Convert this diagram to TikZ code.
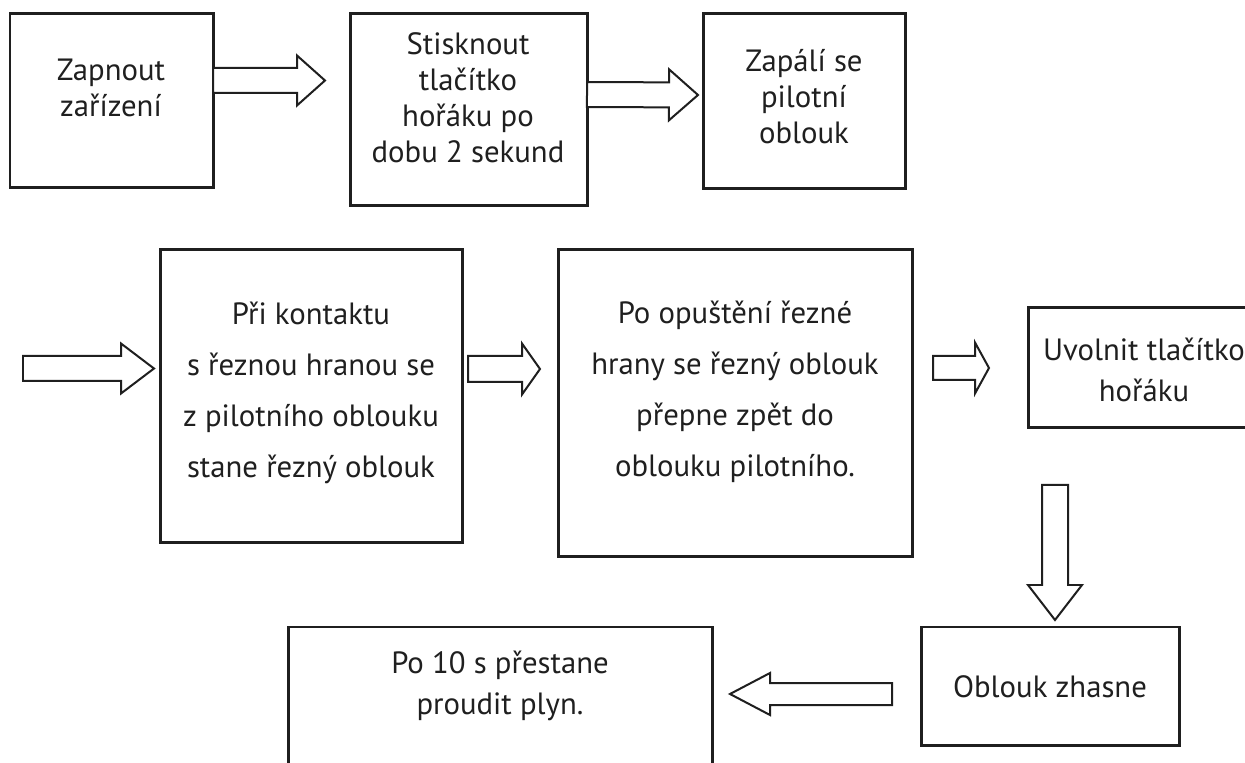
\documentclass[tikz,border=0pt]{standalone}
\usepackage{fontspec}
\setmainfont{PT Sans}
\usetikzlibrary{calc}

\newcommand{\px}{0.02cm}
% hollow block arrow: start, tip, shaft half width, head half width, head length, name
\newcommand{\hollowarrow}[6]{%
  \coordinate (#6s) at (#1);
  \coordinate (#6t) at (#2);
  \coordinate (#6h) at ($(#6t)!#5*\px!(#6s)$);
  \draw[blockarrow] ($(#6s)!#3*\px!90:(#6t)$) -- ($(#6h)!#3*\px!90:(#6t)$)
    -- ($(#6h)!#4*\px!90:(#6t)$) -- (#6t) -- ($(#6h)!#4*\px!-90:(#6t)$)
    -- ($(#6h)!#3*\px!-90:(#6t)$) -- ($(#6s)!#3*\px!-90:(#6t)$) -- cycle;
}

\tikzset{
  box/.style 2 args={draw=black!88, line width=0.06cm, inner sep=0pt, outer sep=0pt,
    minimum width=#1*\px, minimum height=#2*\px},
  txt/.style={align=center, text=black!88, inner sep=0pt,
    font=\fontsize{17.5}{20.5}\selectfont},
  widetxt/.style={txt, font=\fontsize{17.5}{29}\selectfont},
  midtxt/.style={txt, font=\fontsize{17.5}{23}\selectfont},
  blockarrow/.style={draw=black!88, fill=white, line width=0.04cm, line join=miter}
}

\begin{document}
\begin{tikzpicture}[x=0.02cm, y=-0.02cm]
	\useasboundingbox (0,0) rectangle (1245,763);
	\clip (0,0) rectangle (1245,763);

	% first row
	\node[box={203}{174}] (b1) at (111.5,101) {};
	\node[box={237}{192}] (b2) at (468.5,110) {};
	\node[box={202}{175}] (b3) at (804,101.5) {};
	\node[txt] (t1) at (111,88) {Zapnout\\zařízení};
	\node[txt] (t2) at (468,98) {Stisknout\\tlačítko\\hořáku po\\dobu 2 sekund};
	\node[txt] (t3) at (804,97) {Zapálí se\\pilotní\\oblouk};

	% second row
	\node[box={302}{293}] (b4) at (311,396.5) {};
	\node[box={354}{307}] (b5) at (735,403.5) {};
	\node[box={234}{120}] (b6) at (1145,368) {};
	\node[widetxt] (t4) at (311,393) {Při kontaktu\\s řeznou hranou se\\z pilotního oblouku\\stane řezný oblouk};
	\node[widetxt] (t5) at (735,392) {Po opuštění řezné\\hrany se řezný oblouk\\přepne zpět do\\oblouku pilotního.};
	\node[midtxt] (t6) at (1144,370) {Uvolnit tlačítko\\hořáku};

	% third row
	\node[box={258}{118}] (b7) at (1050,686) {};
	\node[box={424}{173}] (b8) at (500,713.5) {};
	\node[txt] (t7) at (1050,687) {Oblouk zhasne};
	\node[midtxt] (t8) at (500,686) {Po 10 s přestane\\proudit plyn.};

	% arrows
	\coordinate (in2) at (23,368.5);
	\hollowarrow{$(b1.east)+(0,-20.5)$}{$(b2.west)+(-25,-29.5)$}{12.5}{25}{28}{a1}
	\hollowarrow{$(b2.east)+(0,-15.5)$}{$(b3.west)+(-5,-6.5)$}{12.5}{25.5}{29}{a2}
	\hollowarrow{in2}{$(b4.west)+(-6,-28)$}{12.5}{25}{33}{a3}
	\hollowarrow{$(b4.east)+(6,-27.5)$}{$(b5.west)+(-18,-34.5)$}{13}{25.5}{18}{a4}
	\hollowarrow{$(b5.east)+(21,-35.5)$}{$(b6.west)+(-39,0)$}{12}{25.5}{14}{a5}
	\hollowarrow{$(b6.south)+(-90,57)$}{$(b7.north)+(5,-7)$}{13}{27}{35}{a6}
	\hollowarrow{$(b7.west)+(-29,8)$}{$(b8.east)+(18,-19.5)$}{11}{21}{40}{a7}
\end{tikzpicture}
\end{document}
